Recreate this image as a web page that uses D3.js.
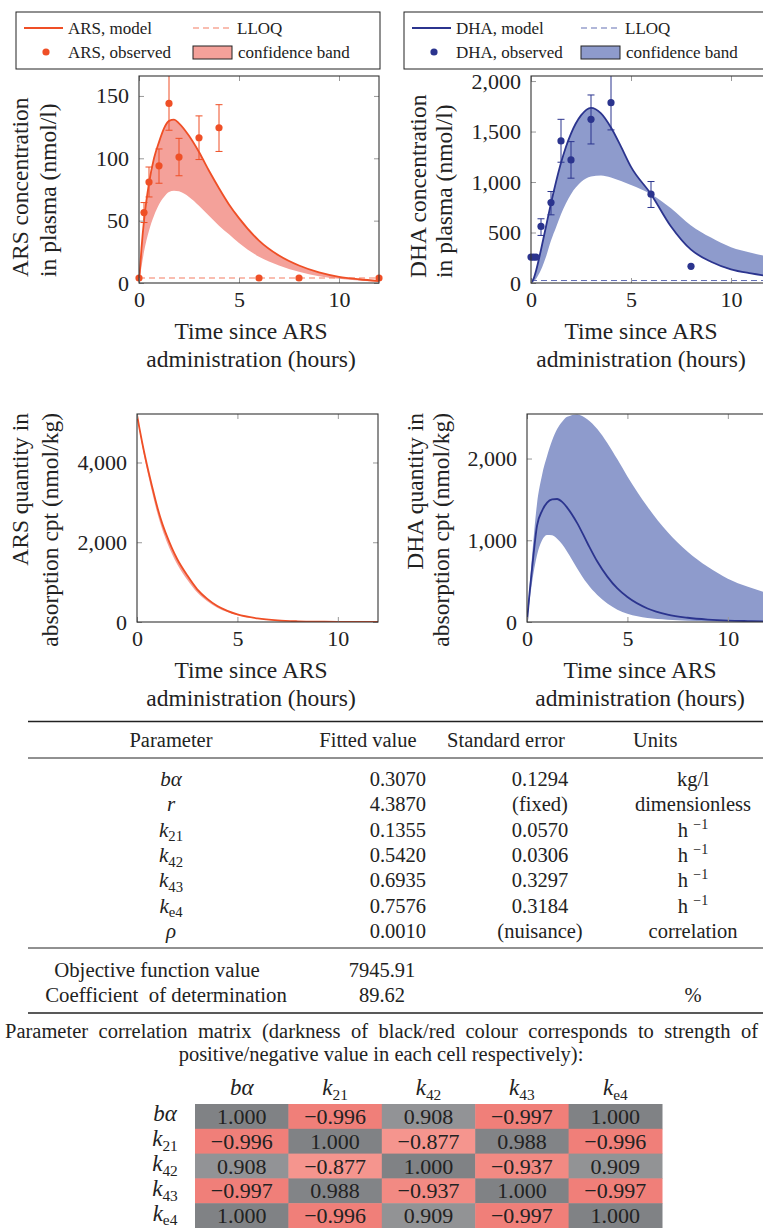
<!DOCTYPE html>
<html>
<head>
<meta charset="utf-8">
<script src="https://cdn.jsdelivr.net/npm/d3@7"></script>
<style>
body { margin: 0; overflow: hidden; background: #fff; }
svg text { font-family: "Liberation Serif", "DejaVu Serif", serif; fill: #222; }
</style>
</head>
<body>
<svg id="fig" width="800" height="1228"></svg>
<script>
// model time grid (hours)
const timeGrid = [0, 0.125, 0.25, 0.5, 0.75, 1, 1.25, 1.5, 1.75, 2, 2.5, 3, 3.5, 4, 4.5, 5, 6, 7, 8, 9, 10, 11, 12];

// ARS plasma concentration (nmol/l)
const arsConcModel = [0, 28, 50, 80, 100, 113, 124, 130, 131, 128, 118, 105, 90, 76, 63, 52, 34, 22, 14, 8.5, 5, 3, 1.5];
const arsConcBandEdge = [0, 13, 25, 42, 54, 63, 69, 73, 74, 73.5, 69, 62, 54, 46, 39, 32, 21, 14, 9, 5.5, 3.5, 2, 1];
const arsObsTime = [0, 0.25, 0.5, 1, 1.5, 2, 3, 4, 6, 8, 12];
const arsObsValue = [4, 56.5, 81, 94, 144, 101, 116.5, 124.5, 4, 4, 4];
const arsObsLow = [null, 48.5, 69, 80, 122.5, 86, 99, 105.5, null, null, null];
const arsObsHigh = [null, 64.5, 93, 107.5, 170, 116, 134, 143, null, null, null];
const arsLloq = 4;

// DHA plasma concentration (nmol/l)
const dhaConcModel = [0, 40, 120, 330, 560, 790, 1000, 1190, 1350, 1480, 1660, 1735, 1680, 1540, 1350, 1150, 880, 560, 330, 210, 135, 95, 65];
const dhaConcBandEdge = [0, 12, 40, 130, 260, 420, 550, 680, 790, 880, 1000, 1055, 1065, 1045, 1010, 970, 880, 740, 570, 450, 355, 300, 255];
const dhaObsTime = [0, 0.125, 0.25, 0.5, 1, 1.5, 2, 3, 4, 6, 8, 12];
const dhaObsValue = [257, 257, 257, 560, 797, 1407, 1219, 1621, 1786, 880, 165, 25];
const dhaObsLow = [null, null, null, 471, 675, 1196, 1038, 1377, 1516, 748, null, null];
const dhaObsHigh = [null, null, null, 636, 906, 1621, 1400, 1862, 2100, 1005, null, null];
const dhaLloq = 25;

// quantities in absorption compartment (nmol/kg)
const arsQtyModel = [5200, 4850, 4520, 3930, 3400, 2900, 2480, 2140, 1840, 1580, 1170, 820, 580, 400, 280, 190, 90, 40, 18, 8, 4, 2, 1];
const arsQtyBandEdge = [5200, 4800, 4440, 3810, 3260, 2750, 2330, 1990, 1700, 1450, 1060, 740, 520, 360, 250, 170, 80, 36, 16, 7, 3.5, 1.8, 0.9];
const dhaQtyModel = [0, 350, 650, 1180, 1360, 1460, 1500, 1505, 1470, 1400, 1210, 970, 740, 555, 410, 305, 165, 90, 52, 30, 17, 11, 7];
const dhaQtyUpper = [0, 420, 800, 1450, 1800, 2030, 2220, 2360, 2450, 2510, 2540, 2480, 2360, 2190, 1990, 1780, 1410, 1100, 860, 675, 530, 430, 350];
const dhaQtyLower = [0, 250, 480, 820, 1000, 1065, 1060, 1020, 950, 860, 655, 470, 330, 225, 150, 100, 48, 28, 16, 9, 5, 3, 1.5];

const xTicks = [0, 5, 10];

// fitted parameter table
const paramSymbols = [
  { base: "bα" }, { base: "r" }, { base: "k", sub: "21" }, { base: "k", sub: "42" },
  { base: "k", sub: "43" }, { base: "k", sub: "e4" }, { base: "ρ" }
];
const fittedValues = ["0.3070", "4.3870", "0.1355", "0.5420", "0.6935", "0.7576", "0.0010"];
const standardErrors = ["0.1294", "(fixed)", "0.0570", "0.0306", "0.3297", "0.3184", "(nuisance)"];
const unitLabels = [
  { text: "kg/l" }, { text: "dimensionless" }, { text: "h ", sup: "−1" }, { text: "h ", sup: "−1" },
  { text: "h ", sup: "−1" }, { text: "h ", sup: "−1" }, { text: "correlation" }
];
const summaryNames = ["Objective function value", "Coefficient\u00a0 of determination"];
const summaryValues = ["7945.91", "89.62"];
const summaryUnits = ["", "%"];

// parameter correlation matrix
const corrSymbols = [
  { base: "bα" }, { base: "k", sub: "21" }, { base: "k", sub: "42" },
  { base: "k", sub: "43" }, { base: "k", sub: "e4" }
];
const corrValues = [
  [1.000, -0.996, 0.908, -0.997, 1.000],
  [-0.996, 1.000, -0.877, 0.988, -0.996],
  [0.908, -0.877, 1.000, -0.937, 0.909],
  [-0.997, 0.988, -0.937, 1.000, -0.997],
  [1.000, -0.996, 0.909, -0.997, 1.000]
];

const svg = d3.select("#fig");
const ARS = "#ef4f26", ARS_BAND = "#f4a19a", ARS_DASH = "#f47d62";
const DHA = "#2b348e", DHA_BAND = "#8e9bcc", DHA_DASH = "#6570b4";

function panel(cfg) {
  const x = d3.scaleLinear().domain([0, 12]).range([cfg.x0, cfg.x1]);
  const y = d3.scaleLinear().domain([0, cfg.ymax]).range([cfg.y1, cfg.y0]);
  const g = svg.append("g");

  svg.append("clipPath").attr("id", "clip" + cfg.id)
    .append("rect")
    .attr("x", cfg.x0).attr("y", cfg.y0)
    .attr("width", cfg.x1 - cfg.x0).attr("height", cfg.y1 - cfg.y0);
  const plot = g.append("g").attr("clip-path", `url(#clip${cfg.id})`);

  const rows = timeGrid.map((t, i) => ({ t, a: cfg.bandA[i], b: cfg.bandB[i], m: cfg.model[i] }));
  plot.append("path").datum(rows)
    .attr("d", d3.area().x(d => x(d.t)).y0(d => y(d.a)).y1(d => y(d.b)).curve(d3.curveMonotoneX))
    .attr("fill", cfg.bandColor);

  if (cfg.lloq != null) {
    plot.append("line")
      .attr("x1", x(0)).attr("x2", x(12))
      .attr("y1", y(cfg.lloq)).attr("y2", y(cfg.lloq))
      .attr("stroke", cfg.dashColor).attr("stroke-width", 1.2)
      .attr("stroke-dasharray", "6,4");
  }

  plot.append("path").datum(rows)
    .attr("d", d3.line().x(d => x(d.t)).y(d => y(d.m)).curve(d3.curveMonotoneX))
    .attr("fill", "none").attr("stroke", cfg.color).attr("stroke-width", 1.8);

  if (cfg.obsTime) {
    const obs = cfg.obsTime.map((t, i) => ({ t, v: cfg.obsValue[i], lo: cfg.obsLow[i], hi: cfg.obsHigh[i] }));
    const bars = plot.selectAll(".err").data(obs.filter(d => d.lo != null)).enter().append("g")
      .attr("stroke", cfg.color).attr("stroke-width", 1);
    bars.append("line").attr("x1", d => x(d.t)).attr("x2", d => x(d.t))
      .attr("y1", d => y(d.lo)).attr("y2", d => y(d.hi));
    bars.append("line").attr("x1", d => x(d.t) - 3.5).attr("x2", d => x(d.t) + 3.5)
      .attr("y1", d => y(d.lo)).attr("y2", d => y(d.lo));
    bars.append("line").attr("x1", d => x(d.t) - 3.5).attr("x2", d => x(d.t) + 3.5)
      .attr("y1", d => y(d.hi)).attr("y2", d => y(d.hi));
    g.selectAll(".dot").data(obs).enter().append("circle")
      .attr("cx", d => x(d.t)).attr("cy", d => y(d.v)).attr("r", 3.6)
      .attr("fill", cfg.color);
  }

  // axes with inward ticks on all sides
  const tickStyle = sel => {
    sel.attr("font-family", null).attr("font-size", null);
    sel.select(".domain").remove();
    sel.selectAll(".tick line").attr("stroke", "#999");
    sel.selectAll("text").style("font-size", "22px").attr("fill", "#222");
  };
  g.append("g").attr("transform", `translate(0,${cfg.y1})`)
    .call(d3.axisBottom(x).tickValues(xTicks).tickSizeInner(-5).tickSizeOuter(0).tickPadding(8))
    .call(tickStyle);
  g.append("g").attr("transform", `translate(0,${cfg.y0})`)
    .call(d3.axisTop(x).tickValues(xTicks).tickSizeInner(-5).tickSizeOuter(0).tickFormat(""))
    .call(tickStyle);
  g.append("g").attr("transform", `translate(${cfg.x0},0)`)
    .call(d3.axisLeft(y).tickValues(cfg.yTicks).tickSizeInner(-5).tickSizeOuter(0).tickPadding(10).tickFormat(d3.format(",")))
    .call(tickStyle);
  g.append("g").attr("transform", `translate(${cfg.x1},0)`)
    .call(d3.axisRight(y).tickValues(cfg.yTicks).tickSizeInner(-5).tickSizeOuter(0).tickFormat(""))
    .call(tickStyle);

  g.append("rect")
    .attr("x", cfg.x0).attr("y", cfg.y0)
    .attr("width", cfg.x1 - cfg.x0).attr("height", cfg.y1 - cfg.y0)
    .attr("fill", "none").attr("stroke", "#333").attr("stroke-width", 1.1);

  // axis titles
  cfg.yLabel.forEach((s, i) => {
    g.append("text")
      .attr("transform", `translate(${cfg.yLabelX[i]},${cfg.yLabelY}) rotate(-90)`)
      .attr("text-anchor", cfg.yLabelAnchor)
      .attr("dominant-baseline", "central")
      .style("font-size", "23.5px")
      .text(s);
  });
  ["Time since ARS", "administration (hours)"].forEach((s, i) => {
    g.append("text")
      .attr("x", cfg.xLabelX).attr("y", cfg.y1 + 48 + i * 28)
      .attr("text-anchor", "middle").attr("dominant-baseline", "central")
      .style("font-size", "23.5px")
      .text(s);
  });
}

panel({
  id: "a", x0: 139, x1: 379, y0: 76, y1: 283, ymax: 166, yTicks: [0, 50, 100, 150],
  model: arsConcModel, bandA: arsConcModel, bandB: arsConcBandEdge,
  color: ARS, bandColor: ARS_BAND, dashColor: ARS_DASH, lloq: arsLloq,
  obsTime: arsObsTime, obsValue: arsObsValue, obsLow: arsObsLow, obsHigh: arsObsHigh,
  yLabel: ["ARS concentration", "in plasma (nmol/l)"], yLabelX: [20, 48], yLabelY: 277, yLabelAnchor: "start",
  xLabelX: 251
});
panel({
  id: "b", x0: 531, x1: 771, y0: 76, y1: 283, ymax: 2050, yTicks: [0, 500, 1000, 1500, 2000],
  model: dhaConcModel, bandA: dhaConcModel, bandB: dhaConcBandEdge,
  color: DHA, bandColor: DHA_BAND, dashColor: DHA_DASH, lloq: dhaLloq,
  obsTime: dhaObsTime, obsValue: dhaObsValue, obsLow: dhaObsLow, obsHigh: dhaObsHigh,
  yLabel: ["DHA concentration", "in plasma (nmol/l)"], yLabelX: [418, 444], yLabelY: 278, yLabelAnchor: "start",
  xLabelX: 641
});
panel({
  id: "c", x0: 137, x1: 378, y0: 414, y1: 622, ymax: 5216, yTicks: [0, 2000, 4000],
  model: arsQtyModel, bandA: arsQtyModel, bandB: arsQtyBandEdge,
  color: ARS, bandColor: ARS_BAND, lloq: null,
  yLabel: ["ARS quantity in", "absorption cpt (nmol/kg)"], yLabelX: [20, 50], yLabelY: 413, yLabelAnchor: "end",
  xLabelX: 251
});
panel({
  id: "d", x0: 527, x1: 768, y0: 414, y1: 622, ymax: 2545, yTicks: [0, 1000, 2000],
  model: dhaQtyModel, bandA: dhaQtyLower, bandB: dhaQtyUpper,
  color: DHA, bandColor: DHA_BAND, lloq: null,
  yLabel: ["DHA quantity in", "absorption cpt (nmol/kg)"], yLabelX: [415, 441], yLabelY: 413, yLabelAnchor: "end",
  xLabelX: 640
});

// legends
function legend(x0, name, color, bandColor, dashColor) {
  const g = svg.append("g").attr("transform", `translate(${x0},12)`);
  g.append("rect").attr("width", 364).attr("height", 57)
    .attr("fill", "#fff").attr("stroke", "#222").attr("stroke-width", 1);
  g.append("line").attr("x1", 8).attr("x2", 47).attr("y1", 16).attr("y2", 16)
    .attr("stroke", color).attr("stroke-width", 1.8);
  g.append("circle").attr("cx", 30).attr("cy", 40).attr("r", 3.6).attr("fill", color);
  g.append("line").attr("x1", 177).attr("x2", 215).attr("y1", 16).attr("y2", 16)
    .attr("stroke", dashColor).attr("stroke-width", 1.2).attr("stroke-dasharray", "6,4");
  g.append("rect").attr("x", 177).attr("y", 34).attr("width", 39).attr("height", 13)
    .attr("fill", bandColor).attr("stroke", "#222").attr("stroke-width", 1);
  const items = [[52, 16, name + ", model"], [52, 40, name + ", observed"], [221, 16, "LLOQ"], [222, 40, "confidence band"]];
  items.forEach(([tx, ty, s]) => {
    g.append("text").attr("x", tx).attr("y", ty).attr("dominant-baseline", "central")
      .style("font-size", "17px").text(s);
  });
}
legend(16, "ARS", ARS, ARS_BAND, ARS_DASH);
legend(404, "DHA", DHA, DHA_BAND, DHA_DASH);

// math-style symbol with optional subscript
function symbol(sel, s, size) {
  sel.append("tspan").style("font-style", "italic").text(s.base);
  if (s.sub) {
    sel.append("tspan").attr("dy", size * 0.22)
      .style("font-size", (size * 0.7) + "px")
      .text(s.sub);
  }
}

// parameter table
const T = svg.append("g");
const colParam = 171, colFit = 426, colSe = 540, colUnit = 693;
T.append("line").attr("x1", 28).attr("x2", 800).attr("y1", 721.5).attr("y2", 721.5).attr("stroke", "#222").attr("stroke-width", 1.6);
T.append("line").attr("x1", 28).attr("x2", 800).attr("y1", 758).attr("y2", 758).attr("stroke", "#222").attr("stroke-width", 1);
T.append("line").attr("x1", 28).attr("x2", 800).attr("y1", 948).attr("y2", 948).attr("stroke", "#222").attr("stroke-width", 1);
T.append("line").attr("x1", 28).attr("x2", 800).attr("y1", 1013).attr("y2", 1013).attr("stroke", "#222").attr("stroke-width", 1.6);

const headers = [[colParam, "middle", "Parameter"], [368, "middle", "Fitted value"], [506, "middle", "Standard error"], [633, "start", "Units"]];
headers.forEach(([hx, anchor, s]) => {
  T.append("text").attr("x", hx).attr("y", 747).attr("text-anchor", anchor)
    .style("font-size", "20.5px").text(s);
});

const rowY = d3.scaleLinear().domain([0, 6]).range([786, 938]);
paramSymbols.forEach((s, i) => {
  const yy = rowY(i);
  symbol(T.append("text").attr("x", colParam).attr("y", yy).attr("text-anchor", "middle").style("font-size", "21px"), s, 21);
  T.append("text").attr("x", colFit).attr("y", yy).attr("text-anchor", "end").style("font-size", "20.5px").text(fittedValues[i]);
  T.append("text").attr("x", colSe).attr("y", yy).attr("text-anchor", "middle").style("font-size", "20.5px").text(standardErrors[i]);
  const u = T.append("text").attr("x", colUnit).attr("y", yy).attr("text-anchor", "middle").style("font-size", "20.5px");
  u.append("tspan").text(unitLabels[i].text);
  if (unitLabels[i].sup) u.append("tspan").attr("dy", -8).style("font-size", "14px").text(unitLabels[i].sup);
});
const summaryX = [157, 166];
summaryNames.forEach((s, i) => {
  const yy = 977 + i * 25;
  T.append("text").attr("x", summaryX[i]).attr("y", yy).attr("text-anchor", "middle").style("font-size", "20.8px").text(s);
  T.append("text").attr("x", 382).attr("y", yy).attr("text-anchor", "middle").style("font-size", "20.5px").text(summaryValues[i]);
  T.append("text").attr("x", colUnit).attr("y", yy).attr("text-anchor", "middle").style("font-size", "20.5px").text(summaryUnits[i]);
});

// correlation matrix caption: first line justified to the full width, last line centred
const cap1 = T.append("text").attr("x", 5).attr("y", 1038).style("font-size", "20.5px")
  .text("Parameter correlation matrix (darkness of black/red colour corresponds to strength of");
const natural = cap1.node().getComputedTextLength();
const spaces = cap1.text().split(" ").length - 1;
cap1.style("word-spacing", ((753 - natural) / spaces) + "px");
T.append("text").attr("x", 381).attr("y", 1061).attr("text-anchor", "middle").style("font-size", "20.5px")
  .text("positive/negative value in each cell respectively):");

const cx = d3.scaleBand().domain(d3.range(5)).range([195, 662]);
const cy = d3.scaleBand().domain(d3.range(5)).range([1104, 1228]);
const posColor = d3.scaleLinear().domain([0.9, 1]).range(["#949597", "#808285"]);
const negColor = d3.scaleLinear().domain([-1, -0.87]).range(["#f07e78", "#f5968f"]);

corrSymbols.forEach((s, j) => {
  symbol(T.append("text").attr("x", cx(j) + cx.bandwidth() / 2).attr("y", 1095).attr("text-anchor", "middle").style("font-size", "23px"), s, 22);
  symbol(T.append("text").attr("x", 165).attr("y", cy(j) + cy.bandwidth() / 2 + 5).attr("text-anchor", "middle").style("font-size", "23px"), s, 22);
});
const cells = corrValues.flatMap((row, i) => row.map((v, j) => ({ i, j, v })));
T.selectAll(".cell").data(cells).enter().append("rect")
  .attr("x", d => cx(d.j)).attr("y", d => cy(d.i))
  .attr("width", cx.bandwidth() + 0.5).attr("height", cy.bandwidth() + 0.5)
  .attr("fill", d => d.v >= 0 ? posColor(d.v) : negColor(d.v));
T.selectAll(".cellText").data(cells).enter().append("text")
  .attr("x", d => cx(d.j) + cx.bandwidth() / 2).attr("y", d => cy(d.i) + cy.bandwidth() / 2 + 7.5)
  .attr("text-anchor", "middle").style("font-size", "22px").attr("fill", "#222")
  .text(d => d3.format(".3f")(d.v).replace("-", "−"));
</script>
</body>
</html>
